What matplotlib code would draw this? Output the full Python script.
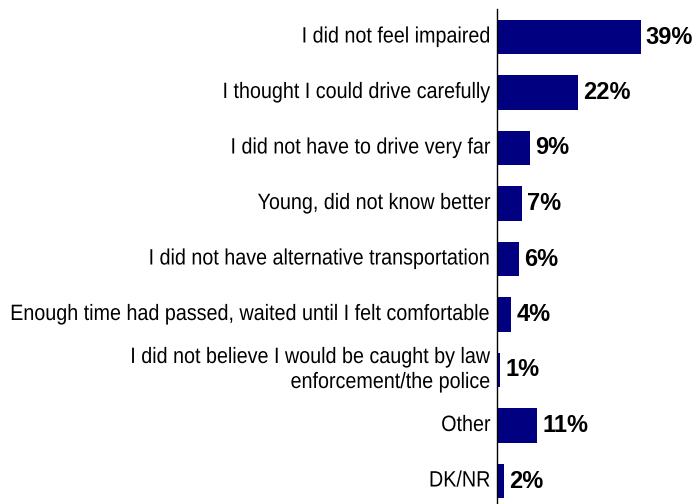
import matplotlib
matplotlib.use("Agg")
import matplotlib.pyplot as plt
from matplotlib.patheffects import AbstractPathEffect
from matplotlib.transforms import Affine2D

categories = [
    "I did not feel impaired",
    "I thought I could drive carefully",
    "I did not have to drive very far",
    "Young, did not know better",
    "I did not have alternative transportation",
    "Enough time had passed, waited until I felt comfortable",
    "I did not believe I would be caught by law\nenforcement/the police",
    "Other",
    "DK/NR",
]
values = [39, 22, 9, 7, 6, 4, 1, 11, 2]


class CondenseX(AbstractPathEffect):
    """Squeeze glyphs horizontally about a fixed x position (data coords)."""

    def __init__(self, ax, xdata, factor):
        super().__init__()
        self.ax = ax
        self.xdata = xdata
        self.factor = factor

    def draw_path(self, renderer, gc, tpath, affine, rgbFace=None):
        x0 = self.ax.transData.transform((self.xdata, 0))[0]
        squeeze = Affine2D().translate(-x0, 0).scale(self.factor, 1).translate(x0, 0)
        renderer.draw_path(gc, tpath, affine + squeeze, rgbFace)


W, H = 696, 504
fig = plt.figure(figsize=(W / 100, H / 100), dpi=100)
ax_left = 496.5 / W
ax_bottom = -4.75 / H
ax_top = (H - 9.25) / H
ax = fig.add_axes([ax_left, ax_bottom, 1 - ax_left, ax_top - ax_bottom])

ypos = list(range(len(categories)))
ax.barh(ypos, values, height=0.62, color="#000080")
ax.set_ylim(len(categories) - 0.5, -0.5)
ax.set_xlim(0, 53.9)

label_x = -1.6
for y, v, label in zip(ypos, values, categories):
    ax.text(v + 1.35, y, f"{v}%", va="center", ha="left",
            fontsize=17, fontweight="bold", family="Liberation Sans")
    ax.text(label_x, y, label, va="center", ha="right", fontsize=16,
            family="Liberation Sans", linespacing=1.25,
            path_effects=[CondenseX(ax, label_x, 0.888)])

for s in ["top", "right", "bottom"]:
    ax.spines[s].set_visible(False)
ax.spines["left"].set_linewidth(1.0)
ax.set_xticks([])
ax.set_yticks([])

fig.savefig("out.png", dpi=100)
